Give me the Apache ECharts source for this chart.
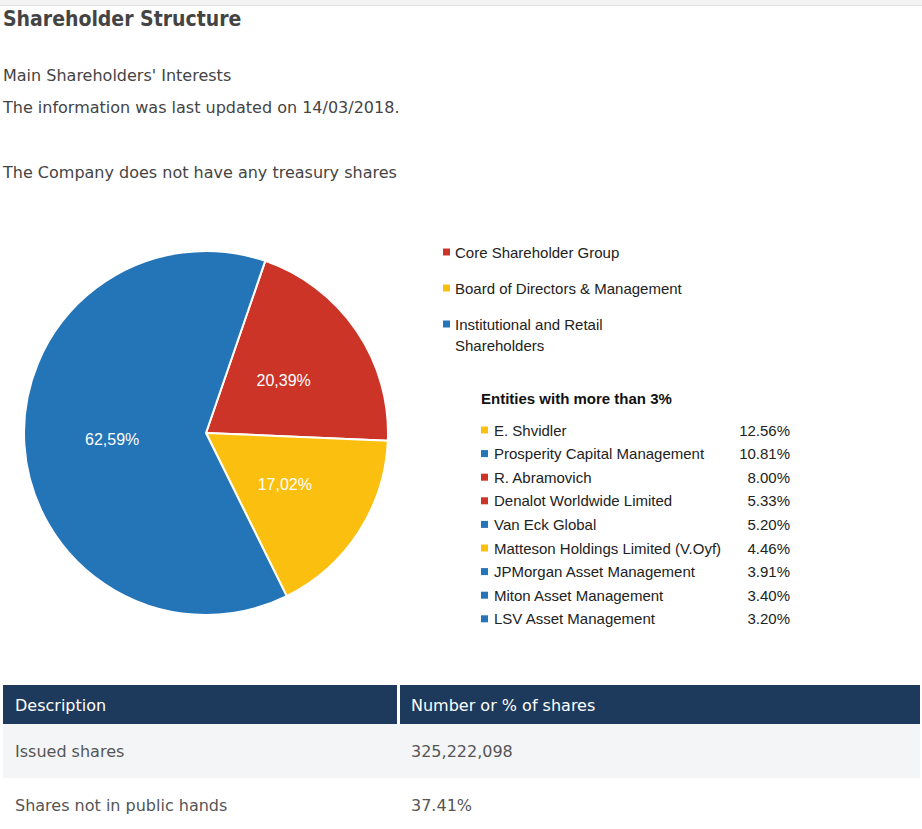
<!DOCTYPE html>
<html>
<head>
<meta charset="utf-8">
<title>Shareholder Structure</title>
<script src="https://cdn.jsdelivr.net/npm/echarts@6/dist/echarts.min.js"></script>
<style>
  html, body { margin: 0; padding: 0; background: #fff; }
  body { width: 922px; height: 829px; overflow: hidden; position: relative;
         font-family: "DejaVu Sans", sans-serif; color: #444; }
  .topbar { position: absolute; left: 0; top: 0; width: 922px; height: 5px; background: #f3f3f3; border-bottom: 1px solid #e2e2e2; }
  .txt { position: absolute; left: 3px; white-space: nowrap; }
  h1.txt { margin: 0; font-family: "DejaVu Sans Condensed", "DejaVu Sans", sans-serif; font-size: 21px; font-weight: bold; top: 7px; color: #444; }
  .p { font-size: 16px; }
  #chart { position: absolute; left: 0; top: 200px; width: 922px; height: 460px; }
  table { position: absolute; left: 3px; top: 685px; width: 917px; border-collapse: separate; border-spacing: 0; font-size: 16px; }
  th { background: #1d3a5c; color: #fff; font-weight: normal; text-align: left; height: 39px; padding: 2px 0 0 12px; box-sizing: border-box; }
  th + th { border-left: 3px solid #fff; padding-left: 11px; }
  td { height: 54px; padding: 0 0 0 12px; color: #555; }
  td + td { padding-left: 14px; }
  tbody tr:nth-child(odd) td { background: #f4f5f7; }
</style>
</head>
<body>
<div class="topbar"></div>
<h1 class="txt">Shareholder Structure</h1>
<div class="txt p" style="top:66px">Main Shareholders' Interests</div>
<div class="txt p" style="top:98px">The information was last updated on 14/03/2018.</div>
<div class="txt p" style="top:163px">The Company does not have any treasury shares</div>
<div id="chart"></div>
<table id="tbl"><thead><tr></tr></thead><tbody></tbody></table>
<script>
// main groups (pie slices)
const groupNames = ['Core Shareholder Group', 'Board of Directors & Management', 'Institutional and Retail\nShareholders'];
const groupValues = [20.39, 17.02, 62.59];
const groupColors = ['#cb3427', '#fbc00f', '#2474b8'];

// entities with more than 3%
const entityNames = ['E. Shvidler', 'Prosperity Capital Management', 'R. Abramovich', 'Denalot Worldwide Limited',
  'Van Eck Global', 'Matteson Holdings Limited (V.Oyf)', 'JPMorgan Asset Management', 'Miton Asset Management', 'LSV Asset Management'];
const entityValues = [12.56, 10.81, 8.00, 5.33, 5.20, 4.46, 3.91, 3.40, 3.20];
const entityGroup = [1, 2, 0, 0, 2, 1, 2, 2, 2];

// share table
const tableHeader = ['Description', 'Number or % of shares'];
const tableRows = [['Issued shares', '325,222,098'], ['Shares not in public hands', '37.41%']];

// table
const head = document.querySelector('#tbl thead tr');
tableHeader.forEach(h => { const th = document.createElement('th'); th.textContent = h; head.appendChild(th); });
const tb = document.querySelector('#tbl tbody');
tableRows.forEach(r => {
  const tr = document.createElement('tr');
  r.forEach(c => { const td = document.createElement('td'); td.textContent = c; tr.appendChild(td); });
  tb.appendChild(tr);
});
document.querySelector('#tbl th').style.width = '394px';

const font = '"Liberation Sans", Arial, sans-serif';
const top0 = 200; // chart div offset in page

// legend + entity list as graphic elements
let g = [];
const legendY = [252, 288, 324];
groupNames.forEach((n, i) => {
  g.push({ type: 'rect', x: 443, y: legendY[i] - top0 - 3.5, shape: { width: 7, height: 7 }, style: { fill: groupColors[i] } });
  g.push({ type: 'text', x: 455, y: legendY[i] - top0 - 10.5,
    style: { text: n, font: '15px ' + font, fill: '#222', lineHeight: 21, verticalAlign: 'top' } });
});
g.push({ type: 'text', x: 481, y: 398 - top0,
  style: { text: 'Entities with more than 3%', font: 'bold 15px ' + font, fill: '#111', verticalAlign: 'middle' } });
entityNames.forEach((n, i) => {
  const y = 430 + i * 23.6 - top0;
  g.push({ type: 'rect', x: 481, y: y - 3.5, shape: { width: 7, height: 7 }, style: { fill: groupColors[entityGroup[i]] } });
  g.push({ type: 'text', x: 494, y: y, style: { text: n, font: '15px ' + font, fill: '#222', verticalAlign: 'middle' } });
  g.push({ type: 'text', x: 790, y: y, style: { text: entityValues[i].toFixed(2) + '%', font: '15px ' + font, fill: '#222', align: 'right', verticalAlign: 'middle' } });
});

const chart = echarts.init(document.getElementById('chart'), null, { renderer: 'svg' });
chart.setOption({
  animation: false,
  graphic: g,
  series: [{
    type: 'pie',
    center: [206, 433 - top0],
    radius: 182,
    startAngle: 71,
    clockwise: true,
    data: groupNames.map((n, i) => ({ name: n, value: groupValues[i], itemStyle: { color: groupColors[i] } })),
    itemStyle: { borderColor: '#fff', borderWidth: 2 },
    label: {
      position: 'inside', color: '#fff', fontSize: 16, fontFamily: font,
      formatter: p => p.value.toFixed(2).replace('.', ',') + '%'
    },
    labelLine: { show: false },
    emphasis: { disabled: true }
  }]
});
</script>
</body>
</html>
